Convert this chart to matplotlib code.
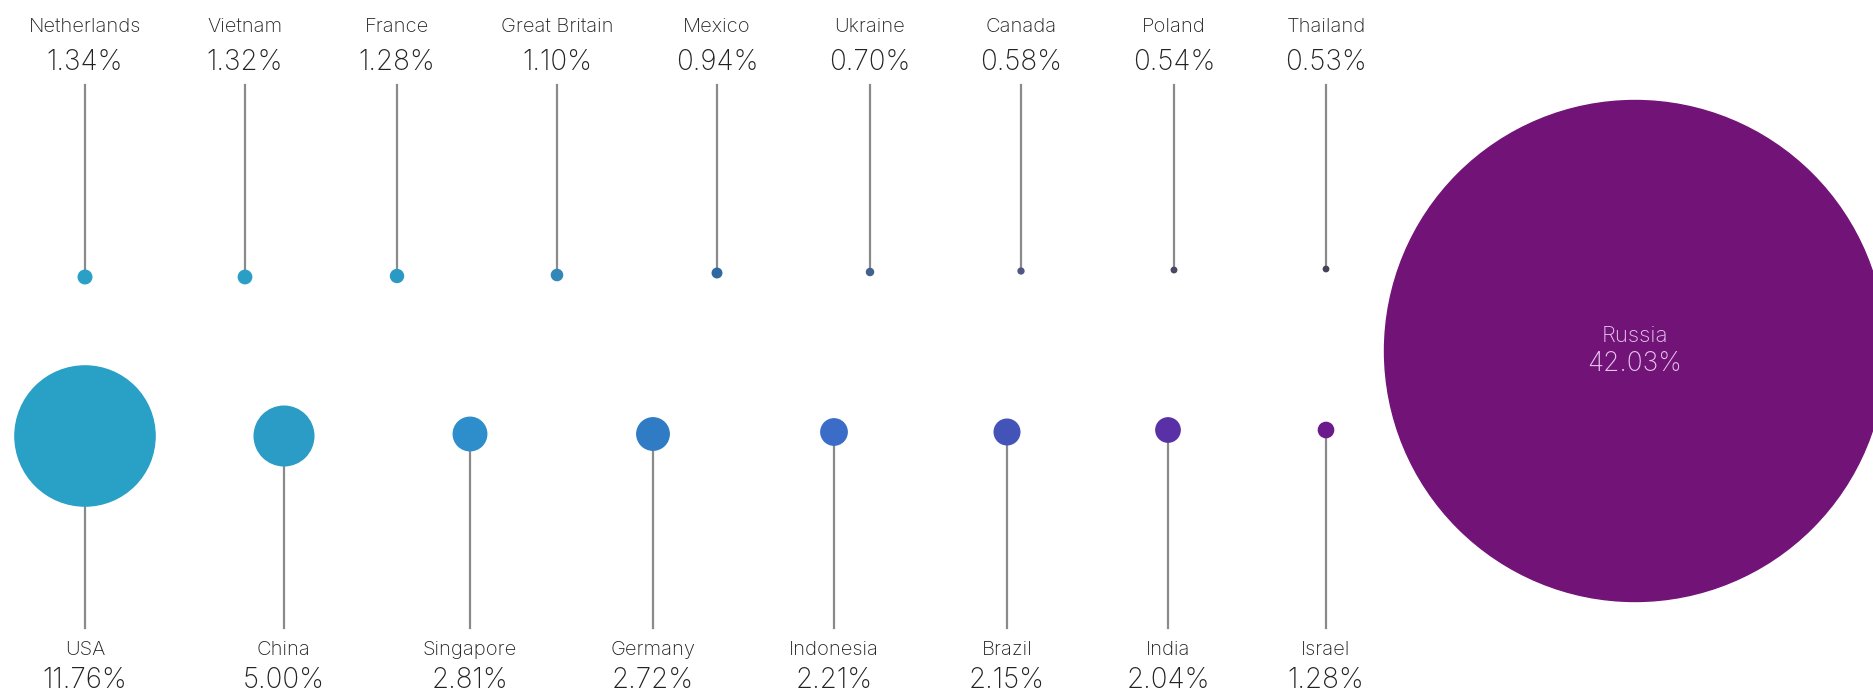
import matplotlib
matplotlib.use("Agg")
import matplotlib.pyplot as plt
from matplotlib.patches import Circle

# ---- data ----
top_countries = ["Netherlands", "Vietnam", "France", "Great Britain", "Mexico",
                 "Ukraine", "Canada", "Poland", "Thailand"]
top_values = [1.34, 1.32, 1.28, 1.10, 0.94, 0.70, 0.58, 0.54, 0.53]

bottom_countries = ["USA", "China", "Singapore", "Germany", "Indonesia",
                    "Brazil", "India", "Israel"]
bottom_values = [11.76, 5.00, 2.81, 2.72, 2.21, 2.15, 2.04, 1.28]

big_country = "Russia"
big_value = 42.03

# ---- layout / style ----
W, H = 1873, 693
R_PER_PCT = 5.96  # pixels of radius per percent

top_x = [85, 245, 397, 557, 717, 870, 1021, 1174, 1326]
top_dot_y = [277, 277, 276, 275, 273, 272, 271, 270, 269]
top_colors = ["#2aa0c6", "#2a9fc6", "#2a9ac4", "#3286b8", "#2e6aa0",
              "#44608f", "#4f5682", "#4a4a66", "#464258"]

bot_x = [85, 284, 470, 653, 834, 1007, 1168, 1326]
bot_y = [436, 436, 434, 434, 432, 432, 430, 430]
bot_colors = ["#29a0c6", "#2a9cc6", "#2d8ecb", "#2f7cc4", "#3a6cc8",
              "#4453b8", "#5a30a6", "#6c1b8c"]

big_xy = (1635, 351)
big_color = "#721378"

line_color = "#8a8a8a"
text_color = "#222222"
font = ["Inter", "DejaVu Sans"]

fig = plt.figure(figsize=(W / 100, H / 100), dpi=100)
ax = fig.add_axes([0, 0, 1, 1])
ax.set_xlim(0, W)
ax.set_ylim(H, 0)
ax.set_aspect("equal")
ax.axis("off")

name_fs = 14.5
val_fs = 20

# top row
for name, v, x, y, c in zip(top_countries, top_values, top_x, top_dot_y, top_colors):
    r = max(v * R_PER_PCT * 0.85, 2.2)
    ax.plot([x, x], [85, y], color=line_color, lw=1.6, zorder=1)
    ax.add_patch(Circle((x, y), r, color=c, zorder=2))
    ax.text(x, 27, name, ha="center", va="center", fontsize=name_fs,
            color=text_color, family=font, fontweight="light")
    ax.text(x, 63, f"{v:.2f}%", ha="center", va="center", fontsize=val_fs,
            color=text_color, family=font, fontweight="light")

# bottom row
for name, v, x, y, c in zip(bottom_countries, bottom_values, bot_x, bot_y, bot_colors):
    r = v * R_PER_PCT
    ax.plot([x, x], [y, 628], color=line_color, lw=1.6, zorder=1)
    ax.add_patch(Circle((x, y), r, color=c, zorder=2))
    ax.text(x, 650, name, ha="center", va="center", fontsize=name_fs,
            color=text_color, family=font, fontweight="light")
    ax.text(x, 680, f"{v:.2f}%", ha="center", va="center", fontsize=val_fs,
            color=text_color, family=font, fontweight="light")

# Russia
ax.add_patch(Circle(big_xy, big_value * R_PER_PCT, color=big_color, zorder=2))
ax.text(big_xy[0], 336, big_country, ha="center", va="center", fontsize=16,
        color="#e6c6ee", family=font, fontweight="light", zorder=3)
ax.text(big_xy[0], 364, f"{big_value:.2f}%", ha="center", va="center", fontsize=19,
        color="#e6c6ee", family=font, fontweight="light", zorder=3)

fig.savefig("out.png", dpi=100, facecolor="white")
